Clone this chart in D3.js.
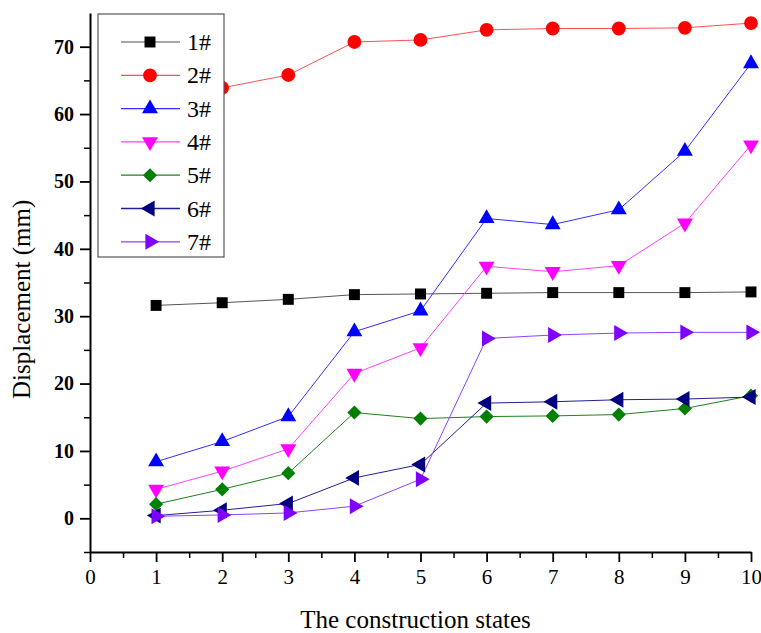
<!DOCTYPE html>
<html>
<head>
<meta charset="utf-8">
<script src="https://cdn.jsdelivr.net/npm/d3@7"></script>
<style>
  body { margin: 0; background: #fff; }
  text { font-family: "Liberation Serif", "Times New Roman", serif; }
</style>
</head>
<body>
<div id="chart"></div>
<script>
// construction states
var states = [1, 2, 3, 4, 5, 6, 7, 8, 9, 10];
// displacement (mm) for each monitoring point
var s1 = [31.6, 32.0, 32.5, 33.2, 33.3, 33.4, 33.5, 33.5, 33.5, 33.6];
var s2 = [61.0, 63.9, 65.8, 70.7, 71.0, 72.5, 72.7, 72.7, 72.8, 73.5];
var s3 = [8.4, 11.4, 15.1, 27.7, 30.8, 44.5, 43.6, 45.8, 54.5, 67.5];
var s4 = [4.3, 7.0, 10.3, 21.5, 25.3, 37.4, 36.6, 37.5, 43.8, 55.4];
var s5 = [2.1, 4.3, 6.7, 15.7, 14.8, 15.1, 15.2, 15.4, 16.3, 18.2];
var s6 = [0.4, 1.2, 2.2, 6.0, 8.0, 17.1, 17.3, 17.6, 17.7, 18.0];
var s7 = [0.3, 0.5, 0.8, 1.8, 5.8, 26.7, 27.2, 27.5, 27.6, 27.6];
var names = ["1#", "2#", "3#", "4#", "5#", "6#", "7#"];
var xTicks = [0, 1, 2, 3, 4, 5, 6, 7, 8, 9, 10];
var yTicks = [0, 10, 20, 30, 40, 50, 60, 70];

var series = [s1, s2, s3, s4, s5, s6, s7];
var colors = ["#000000", "#ff0000", "#0000ff", "#ff00ff", "#008000", "#000080", "#8000ff"];
var lineColors = ["#555555", "#ff5050", "#3030ff", "#ff40ff", "#208020", "#202090", "#9040ff"];
// marker: symbol type, rotation, size
var markers = [
  [d3.symbolSquare, 0, 120],
  [d3.symbolCircle, 0, 150],
  [d3.symbolTriangle, 0, 110],
  [d3.symbolTriangle, 180, 110],
  [d3.symbolSquare, 45, 100],
  [d3.symbolTriangle, -90, 110],
  [d3.symbolTriangle, 90, 110]
];

var width = 761, height = 633;
var margin = {top: 13, right: 10, bottom: 81, left: 90};
var w = width - margin.left - margin.right;
var h = height - margin.top - margin.bottom;

var svg = d3.select("#chart").append("svg")
  .attr("width", width)
  .attr("height", height);

var g = svg.append("g")
  .attr("transform", "translate(" + margin.left + "," + margin.top + ")");

var x = d3.scaleLinear().domain([0, 10]).range([0, w]);
var y = d3.scaleLinear().domain([-5, 75]).range([h, 0]);

// minor ticks
g.append("g")
  .attr("transform", "translate(0," + h + ")")
  .call(d3.axisBottom(x).tickValues(d3.range(0.5, 10, 1)).tickSize(6).tickFormat(""))
  .call(function (a) { a.select(".domain").remove(); a.selectAll("line").attr("stroke-width", 1.5); });
g.append("g")
  .call(d3.axisLeft(y).tickValues([-5, 5, 15, 25, 35, 45, 55, 65]).tickSize(6).tickFormat(""))
  .call(function (a) { a.select(".domain").remove(); a.selectAll("line").attr("stroke-width", 1.5); });

// major axes
var xAxis = g.append("g")
  .attr("transform", "translate(0," + h + ")")
  .call(d3.axisBottom(x).tickValues(xTicks).tickSize(10).tickSizeOuter(0).tickPadding(7));
var yAxis = g.append("g")
  .call(d3.axisLeft(y).tickValues(yTicks).tickSize(10).tickSizeOuter(0).tickPadding(6));

[xAxis, yAxis].forEach(function (a) {
  a.select(".domain").attr("stroke-width", 2);
  a.selectAll(".tick line").attr("stroke-width", 1.8);
  a.selectAll("text")
    .style("font-family", "'Liberation Serif', serif")
    .style("font-size", "21px")
    .attr("fill", "#000");
});
yAxis.selectAll("text").style("font-weight", "bold").style("font-size", "20px");

// axis titles
svg.append("text")
  .attr("x", margin.left + w / 2 - 5)
  .attr("y", 628)
  .attr("text-anchor", "middle")
  .style("font-size", "25px")
  .text("The construction states");
svg.append("text")
  .attr("transform", "translate(30," + (margin.top + y(32.5)) + ") rotate(-90)")
  .attr("text-anchor", "middle")
  .style("font-size", "25px")
  .text("Displacement (mm)");

var line = d3.line()
  .x(function (d, i) { return x(states[i]); })
  .y(function (d) { return y(d); });

function sym(k) {
  return d3.symbol().type(markers[k][0]).size(markers[k][2]);
}

series.forEach(function (data, k) {
  g.append("path")
    .datum(data)
    .attr("d", line)
    .attr("fill", "none")
    .attr("stroke", lineColors[k])
    .attr("stroke-width", 1);
});
series.forEach(function (data, k) {
  g.selectAll(".m" + k)
    .data(data)
    .enter()
    .append("path")
    .attr("class", "m" + k)
    .attr("d", sym(k))
    .attr("fill", colors[k])
    .attr("transform", function (d, i) {
      return "translate(" + x(states[i]) + "," + y(d) + ") rotate(" + markers[k][1] + ")";
    });
});

// legend
var lg = svg.append("g").attr("transform", "translate(98,14)");
lg.append("rect")
  .attr("width", 126)
  .attr("height", 243)
  .attr("fill", "#fff")
  .attr("stroke", "#555")
  .attr("stroke-width", 1.2);
names.forEach(function (n, k) {
  var yy = 28 + k * 33.3;
  lg.append("line")
    .attr("x1", 23).attr("x2", 82)
    .attr("y1", yy).attr("y2", yy)
    .attr("stroke", k == 0 ? "#888" : lineColors[k])
    .attr("stroke-width", 1.3);
  lg.append("path")
    .attr("d", sym(k))
    .attr("fill", colors[k])
    .attr("transform", "translate(52," + yy + ") rotate(" + markers[k][1] + ")");
  lg.append("text")
    .attr("x", 89)
    .attr("y", yy + 8)
    .style("font-size", "24px")
    .text(n);
});
</script>
</body>
</html>
